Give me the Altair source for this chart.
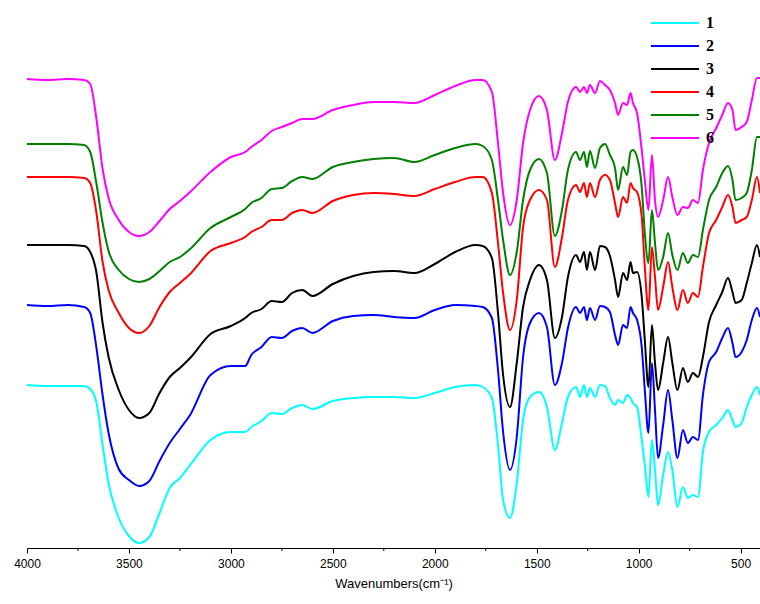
import altair as alt
import pandas as pd

# Wavenumber grid (cm^-1), shared by every spectrum
wavenumbers = [4000, 3900, 3800, 3720, 3690, 3660, 3630, 3600, 3550, 3500,
               3450, 3400, 3350, 3300, 3250, 3200, 3100, 3000, 2930, 2900,
               2850, 2800, 2750, 2700, 2650, 2600, 2500, 2400, 2300, 2200,
               2100, 2000, 1900, 1800, 1765, 1720, 1690, 1665, 1631, 1598,
               1567, 1533, 1489, 1450, 1411, 1376, 1347, 1307, 1288, 1268,
               1254, 1239, 1214, 1190, 1165, 1141, 1116, 1101, 1077, 1057,
               1040, 1028, 1008, 985, 970, 952, 935, 920, 905, 880,
               856, 835, 810, 783, 759, 734, 709, 685, 655, 620,
               590, 562, 540, 525, 495, 470, 445, 420, 405]

# Offset transmittance (arbitrary units)
s1 = [163, 162, 162, 162, 159, 146, 104, 65, 30, 12,
      5, 11, 35, 60, 70, 83, 108, 116, 116, 121,
      127, 135, 134, 140, 143, 139, 147, 150, 151, 151,
      150, 155, 161, 163, 161, 150, 103, 48, 30, 65,
      128, 151, 156, 141, 98, 125, 151, 161, 151, 163,
      151, 160, 151, 163, 162, 150, 143, 148, 145, 153,
      150, 145, 141, 108, 83, 51, 108, 78, 43, 73,
      96, 78, 41, 61, 50, 53, 51, 96, 116, 123,
      130, 138, 128, 121, 125, 141, 153, 161, 153]
s2 = [243, 242, 243, 241, 235, 201, 154, 115, 79, 68,
      62, 67, 87, 105, 119, 133, 173, 182, 182, 193,
      201, 211, 210, 217, 220, 215, 227, 232, 233, 231,
      230, 238, 243, 242, 241, 230, 178, 116, 78, 111,
      191, 225, 235, 221, 163, 185, 220, 241, 235, 241,
      228, 240, 228, 242, 241, 236, 213, 203, 223, 220,
      241, 235, 228, 201, 158, 115, 185, 138, 90, 123,
      158, 128, 90, 118, 105, 111, 108, 153, 186, 196,
      210, 220, 205, 191, 196, 208, 228, 240, 231]
s3 = [303, 303, 303, 302, 296, 276, 226, 191, 158, 138,
      130, 135, 155, 171, 180, 190, 214, 222, 230, 235,
      239, 247, 246, 255, 258, 252, 264, 272, 276, 277,
      275, 284, 296, 303, 302, 290, 235, 173, 141, 185,
      241, 268, 283, 268, 210, 231, 271, 293, 286, 296,
      278, 296, 278, 302, 301, 292, 268, 251, 275, 268,
      286, 275, 276, 251, 208, 161, 223, 185, 158, 185,
      211, 185, 158, 180, 166, 175, 171, 191, 226, 243,
      256, 270, 256, 245, 248, 265, 285, 303, 291]
s4 = [371, 371, 371, 370, 365, 336, 287, 258, 235, 220,
      215, 222, 241, 256, 265, 274, 297, 305, 311, 316,
      321, 328, 328, 335, 338, 335, 347, 353, 355, 354,
      352, 359, 366, 371, 371, 355, 305, 255, 218, 248,
      321, 348, 358, 348, 281, 311, 348, 363, 356, 365,
      351, 365, 351, 368, 373, 368, 345, 331, 351, 345,
      365, 360, 356, 331, 281, 238, 301, 271, 238, 261,
      286, 261, 238, 258, 245, 255, 251, 281, 315, 328,
      341, 353, 341, 325, 328, 331, 348, 371, 355]
s5 = [404, 404, 404, 403, 396, 365, 326, 297, 278, 269,
      266, 269, 277, 286, 291, 299, 320, 331, 339, 345,
      350, 359, 360, 367, 371, 369, 381, 386, 389, 390,
      386, 393, 400, 404, 402, 388, 348, 308, 273, 296,
      348, 378, 389, 375, 312, 338, 378, 396, 388, 396,
      381, 397, 380, 400, 404, 393, 380, 358, 381, 373,
      396, 398, 391, 361, 315, 285, 338, 305, 278, 291,
      315, 293, 278, 295, 285, 293, 291, 318, 348, 361,
      375, 382, 368, 348, 350, 355, 378, 411, 411]
s6 = [469, 468, 469, 468, 464, 430, 380, 350, 328, 316,
      312, 316, 327, 339, 347, 356, 376, 391, 396, 401,
      408, 417, 421, 425, 429, 429, 438, 443, 446, 446,
      445, 453, 462, 468, 468, 456, 405, 355, 323, 348,
      405, 438, 452, 438, 388, 415, 446, 461, 456, 461,
      455, 463, 455, 467, 463, 458, 445, 433, 445, 443,
      455, 445, 435, 398, 368, 338, 393, 348, 331, 348,
      371, 351, 333, 341, 340, 348, 345, 378, 405, 420,
      433, 445, 438, 418, 421, 426, 448, 470, 470]

series_names = ["1", "2", "3", "4", "5", "6"]
series_colors = ["#00FFFF", "#0000FF", "#000000", "#FF0000", "#008000", "#FF00FF"]
major_ticks = [4000, 3500, 3000, 2500, 2000, 1500, 1000, 500]
minor_ticks = [3750, 3250, 2750, 2250, 1750, 1250, 750]

rows = []
for name, vals in zip(series_names, [s1, s2, s3, s4, s5, s6]):
    for w, v in zip(wavenumbers, vals):
        rows.append({"wn": w, "T": v, "series": name})
df = pd.DataFrame(rows)

title_text = "Wavenumbers(cm\u207b\u00b9)"
xscale = alt.Scale(domain=[405, 4000], reverse=True, nice=False, zero=False)
yscale = alt.Scale(domain=[0, 548], nice=False, zero=False)

lines = alt.Chart(df).mark_line(strokeWidth=2, interpolate="monotone").encode(
    x=alt.X("wn:Q", scale=xscale,
            axis=alt.Axis(values=major_ticks, title=title_text, format="d",
                          tickSize=5, labelPadding=5, titlePadding=8,
                          labelFlush=False, labelOverlap=False,
                          labelFont="Liberation Sans", labelFontSize=12,
                          titleFont="Liberation Sans", titleFontSize=13,
                          titleFontWeight="normal", grid=False,
                          domainColor="black", tickColor="black",
                          labelColor="black", titleColor="black")),
    y=alt.Y("T:Q", scale=yscale, axis=None),
    color=alt.Color("series:N",
                    scale=alt.Scale(domain=series_names, range=series_colors),
                    title=None,
                    legend=alt.Legend(orient="none", legendX=640, legendY=15,
                                      symbolType="M -4 0 L 4 0", symbolSize=144,
                                      symbolStrokeWidth=2,
                                      labelFont="Liberation Serif",
                                      labelFontWeight="bold", labelFontSize=16,
                                      labelColor="black",
                                      rowPadding=7, labelOffset=23, padding=0)),
)

minor = alt.Chart(pd.DataFrame({"wn": minor_ticks})).mark_rule(
    color="black", strokeWidth=1
).encode(
    x=alt.X("wn:Q", scale=xscale, title=title_text),
    y=alt.value(548),
    y2=alt.value(551),
)

chart = alt.layer(lines, minor).properties(
    width=733, height=548,
    padding={"left": 27, "top": 0, "right": 0, "bottom": 56},
    autosize=alt.AutoSizeParams(type="none"),
).configure_view(strokeWidth=0)

chart.save("out.html", embed_options={"renderer": "svg", "actions": False})
